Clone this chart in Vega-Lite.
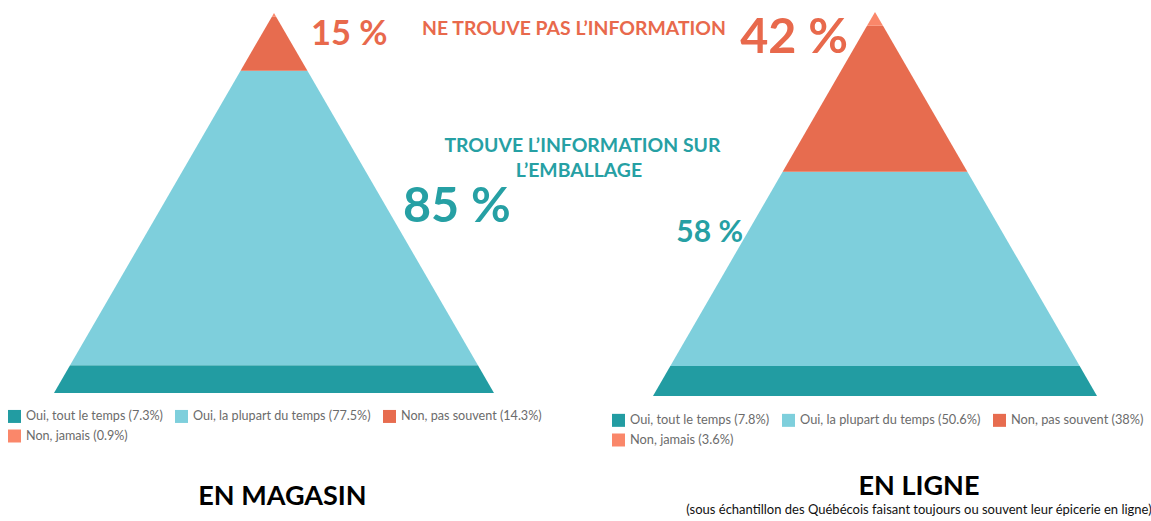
{
  "$schema": "https://vega.github.io/schema/vega-lite/v6.json",
  "background": "white",
  "padding": {"left": 0, "top": 12, "right": 0, "bottom": 0},
  "spacing": 0,
  "bounds": "flush",
  "config": {"view": {"stroke": null}, "font": "Lato"},
  "resolve": {"scale": {"color": "independent", "x": "independent", "y": "independent"}, "legend": {"color": "independent"}},
  "hconcat": [
    {
      "width": 575,
      "height": 381,
      "title": {"text": "EN MAGASIN", "orient": "bottom", "anchor": "middle", "font": "Lato", "fontSize": 27, "fontWeight": "bold", "color": "#000000", "offset": 40, "dx": -5},
      "layer": [
        {
          "data": {"values": [
            {"reponse": "Oui, tout le temps (7.3%)", "niveau": 0, "g": -50, "d": 50},
            {"reponse": "Oui, tout le temps (7.3%)", "niveau": 7.3, "g": -46.35, "d": 46.35},
            {"reponse": "Oui, la plupart du temps (77.5%)", "niveau": 7.3, "g": -46.35, "d": 46.35},
            {"reponse": "Oui, la plupart du temps (77.5%)", "niveau": 84.8, "g": -7.6, "d": 7.6},
            {"reponse": "Non, pas souvent (14.3%)", "niveau": 84.8, "g": -7.6, "d": 7.6},
            {"reponse": "Non, pas souvent (14.3%)", "niveau": 99.1, "g": -0.45, "d": 0.45},
            {"reponse": "Non, jamais (0.9%)", "niveau": 99.1, "g": -0.45, "d": 0.45},
            {"reponse": "Non, jamais (0.9%)", "niveau": 100, "g": 0, "d": 0}
          ]},
          "mark": {"type": "area", "orient": "horizontal"},
          "encoding": {
            "y": {"field": "niveau", "type": "quantitative", "scale": {"domain": [0, 100.26], "nice": false, "zero": false}, "axis": null},
            "x": {"field": "g", "type": "quantitative", "stack": null, "scale": {"domain": [-62.27, 68.41], "nice": false, "zero": false}, "axis": null},
            "x2": {"field": "d"},
            "color": {
              "field": "reponse", "type": "nominal",
              "scale": {"domain": ["Oui, tout le temps (7.3%)", "Oui, la plupart du temps (77.5%)", "Non, pas souvent (14.3%)", "Non, jamais (0.9%)"], "range": ["#229CA2", "#7ECFDC", "#E76C4F", "#FA876A"]},
              "legend": {"orient": "none", "legendX": 8, "legendY": 397.5, "title": null, "columns": 3, "direction": "horizontal", "symbolType": "square", "symbolSize": 169, "symbolStrokeWidth": 0, "labelFont": "Lato", "labelFontSize": 12.6, "labelColor": "#6b6b6b", "labelLimit": 400, "columnPadding": 12, "rowPadding": 6, "labelOffset": 5}
            },
            "detail": {"field": "reponse"}
          }
        },
        {
          "data": {"values": [{"etiquette": "15 %"}]},
          "mark": {"type": "text", "font": "Lato", "fontSize": 34.5, "fontWeight": "bold", "color": "#E8694C", "align": "left", "baseline": "alphabetic"},
          "encoding": {
            "text": {"field": "etiquette"},
            "x": {"datum": 8.4, "type": "quantitative", "scale": {"domain": [-62.27, 68.41], "nice": false, "zero": false}},
            "y": {"datum": 91.45, "type": "quantitative", "scale": {"domain": [0, 100.26], "nice": false, "zero": false}}
          }
        },
        {
          "data": {"values": [{"etiquette": "NE TROUVE PAS L’INFORMATION"}]},
          "mark": {"type": "text", "font": "Lato", "fontSize": 19.4, "fontWeight": "bold", "color": "#E8694C", "align": "center", "baseline": "alphabetic"},
          "encoding": {
            "text": {"field": "etiquette"},
            "x": {"datum": 68.18, "type": "quantitative", "scale": {"domain": [-62.27, 68.41], "nice": false, "zero": false}},
            "y": {"datum": 94.21, "type": "quantitative", "scale": {"domain": [0, 100.26], "nice": false, "zero": false}}
          }
        },
        {
          "data": {"values": [{"etiquette": "TROUVE L’INFORMATION SUR"}]},
          "mark": {"type": "text", "font": "Lato", "fontSize": 19.4, "fontWeight": "bold", "color": "#26A0A4", "align": "center", "baseline": "alphabetic"},
          "encoding": {
            "text": {"field": "etiquette"},
            "x": {"datum": 70.1, "type": "quantitative", "scale": {"domain": [-62.27, 68.41], "nice": false, "zero": false}},
            "y": {"datum": 63.42, "type": "quantitative", "scale": {"domain": [0, 100.26], "nice": false, "zero": false}}
          }
        },
        {
          "data": {"values": [{"etiquette": "L’EMBALLAGE"}]},
          "mark": {"type": "text", "font": "Lato", "fontSize": 19.4, "fontWeight": "bold", "color": "#26A0A4", "align": "center", "baseline": "alphabetic"},
          "encoding": {
            "text": {"field": "etiquette"},
            "x": {"datum": 69.3, "type": "quantitative", "scale": {"domain": [-62.27, 68.41], "nice": false, "zero": false}},
            "y": {"datum": 56.84, "type": "quantitative", "scale": {"domain": [0, 100.26], "nice": false, "zero": false}}
          }
        },
        {
          "data": {"values": [{"etiquette": "85 %"}]},
          "mark": {"type": "text", "font": "Lato", "fontSize": 48.5, "fontWeight": "bold", "color": "#26A0A4", "align": "left", "baseline": "alphabetic"},
          "encoding": {
            "text": {"field": "etiquette"},
            "x": {"datum": 29.3, "type": "quantitative", "scale": {"domain": [-62.27, 68.41], "nice": false, "zero": false}},
            "y": {"datum": 45, "type": "quantitative", "scale": {"domain": [0, 100.26], "nice": false, "zero": false}}
          }
        }
      ]
    },
    {
      "width": 576,
      "height": 384,
      "title": {"text": "EN LIGNE", "subtitle": "(sous échantillon des Québécois faisant toujours ou souvent leur épicerie en ligne)", "orient": "bottom", "anchor": "middle", "font": "Lato", "fontSize": 27, "fontWeight": "bold", "color": "#000000", "subtitleFont": "Lato", "subtitleFontSize": 13, "subtitleColor": "#111111", "subtitlePadding": 3, "offset": 26, "dx": 56},
      "layer": [
        {
          "data": {"values": [
            {"reponse": "Oui, tout le temps (7.8%)", "niveau": 0, "g": -50, "d": 50},
            {"reponse": "Oui, tout le temps (7.8%)", "niveau": 7.8, "g": -46.1, "d": 46.1},
            {"reponse": "Oui, la plupart du temps (50.6%)", "niveau": 7.8, "g": -46.1, "d": 46.1},
            {"reponse": "Oui, la plupart du temps (50.6%)", "niveau": 58.4, "g": -20.8, "d": 20.8},
            {"reponse": "Non, pas souvent (38%)", "niveau": 58.4, "g": -20.8, "d": 20.8},
            {"reponse": "Non, pas souvent (38%)", "niveau": 96.4, "g": -1.8, "d": 1.8},
            {"reponse": "Non, jamais (3.6%)", "niveau": 96.4, "g": -1.8, "d": 1.8},
            {"reponse": "Non, jamais (3.6%)", "niveau": 100, "g": 0, "d": 0}
          ]},
          "mark": {"type": "area", "orient": "horizontal"},
          "encoding": {
            "y": {"field": "niveau", "type": "quantitative", "scale": {"domain": [0, 100], "nice": false, "zero": false}, "axis": null},
            "x": {"field": "g", "type": "quantitative", "stack": null, "scale": {"domain": [-67.57, 62.16], "nice": false, "zero": false}, "axis": null},
            "x2": {"field": "d"},
            "color": {
              "field": "reponse", "type": "nominal",
              "scale": {"domain": ["Oui, tout le temps (7.8%)", "Oui, la plupart du temps (50.6%)", "Non, pas souvent (38%)", "Non, jamais (3.6%)"], "range": ["#229CA2", "#7ECFDC", "#E76C4F", "#FA876A"]},
              "legend": {"orient": "none", "legendX": 37, "legendY": 401.5, "title": null, "columns": 3, "direction": "horizontal", "symbolType": "square", "symbolSize": 169, "symbolStrokeWidth": 0, "labelFont": "Lato", "labelFontSize": 12.8, "labelColor": "#6b6b6b", "labelLimit": 400, "columnPadding": 12, "rowPadding": 6, "labelOffset": 5}
            },
            "detail": {"field": "reponse"}
          }
        },
        {
          "data": {"values": [{"etiquette": "42 %"}]},
          "mark": {"type": "text", "font": "Lato", "fontSize": 48.5, "fontWeight": "bold", "color": "#E8694C", "align": "right", "baseline": "alphabetic"},
          "encoding": {
            "text": {"field": "etiquette"},
            "x": {"datum": -6.08, "type": "quantitative", "scale": {"domain": [-67.57, 62.16], "nice": false, "zero": false}},
            "y": {"datum": 89.3, "type": "quantitative", "scale": {"domain": [0, 100], "nice": false, "zero": false}}
          }
        },
        {
          "data": {"values": [{"etiquette": "58 %"}]},
          "mark": {"type": "text", "font": "Lato", "fontSize": 30, "fontWeight": "bold", "color": "#26A0A4", "align": "right", "baseline": "alphabetic"},
          "encoding": {
            "text": {"field": "etiquette"},
            "x": {"datum": -29.73, "type": "quantitative", "scale": {"domain": [-67.57, 62.16], "nice": false, "zero": false}},
            "y": {"datum": 40.1, "type": "quantitative", "scale": {"domain": [0, 100], "nice": false, "zero": false}}
          }
        }
      ]
    }
  ]
}
